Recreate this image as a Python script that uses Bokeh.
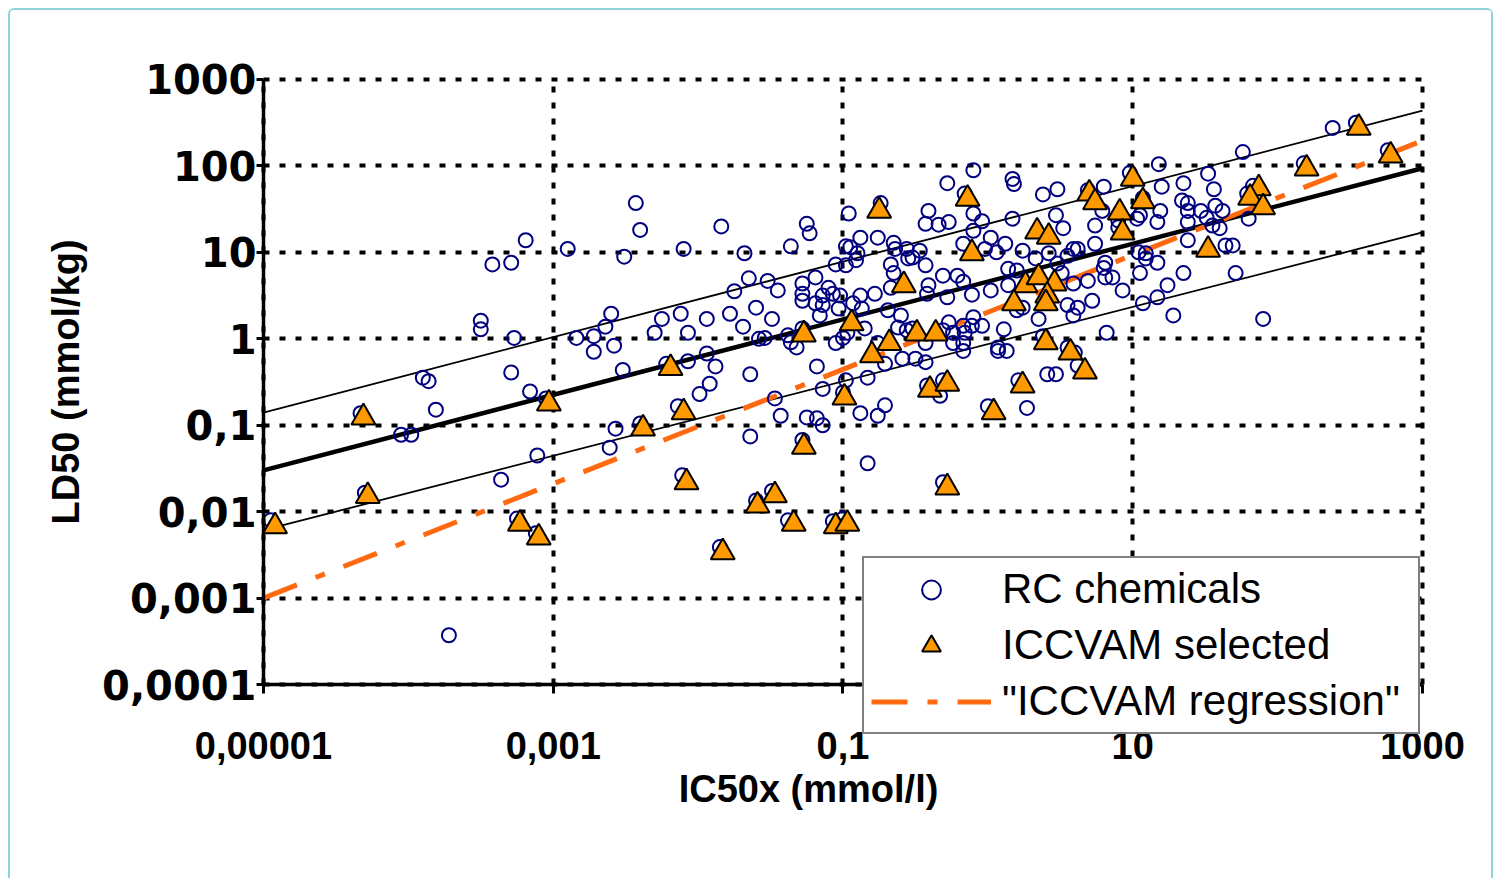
from bokeh.plotting import figure
from bokeh.models import FixedTicker, Legend, LegendItem, Range1d, LogAxis
from bokeh.embed import file_html
from bokeh.resources import INLINE

# ---------------- data (log10 of values) ----------------
rc_log_ic50 = [
    -4.95, -3.19, -3.42, -3.29, -3.50, -3.50, -3.27, -3.90, -3.86, -3.29, -3.16, -3.05, -3.81, -4.33,
    -4.05, -3.98, -3.11, -3.36, -4.30, -3.25, -3.12, -3.72,
    -2.43, -2.40, -1.84, -2.90, -2.51, -2.10, -1.68, -1.65, -1.75, -1.60, -2.60, -2.25, -2.12, -1.94,
    -1.78, -1.69, -2.64, -2.84, -2.72, -2.30, -2.07, -1.58, -2.58, -2.72, -1.94, -2.52, -2.07, -1.88,
    -2.22, -1.64, -1.92, -1.99, -2.14, -2.57, -2.40, -2.61, -1.64, -2.11, -1.60, -1.85,
    -0.74, -0.96, -1.25, -1.23, -1.36, -0.98, -0.95, -0.88, -0.76, -0.65, -0.64, -0.56, -0.55, -0.90,
    -0.91, -1.05, -0.98, -0.67, -0.65, -1.52, -1.45, -1.19, -1.28, -1.28, -1.10, -1.07, -1.02, -1.14,
    -0.88, -0.78, -0.67, -1.49, -1.54, -1.38, -1.36, -1.32, -1.28, -1.28, -1.19, -1.14, -1.16, -1.03,
    -0.93, -0.87, -0.85, -0.97, -1.05, -1.00, -0.69, -0.60, -0.62, -0.56, -0.76, -0.71, -0.59, -1.18,
    -0.98, -0.83, -1.14, -1.47, -1.00, -1.43, -1.25, -1.18, -1.14, -0.88, -0.76, -0.71, -1.28, -0.83,
    -1.49, -1.38, -1.07, -1.00,
    -0.10, 0.17, 0.18, -0.28, 0.38, 0.48, -0.16, -0.41, -0.43, -0.34, -0.27, -0.10, -0.04, -0.10,
    0.17, 0.47, 0.02, -0.17, 0.12, -0.02, 0.06, -0.47, -0.52, -0.43, 0.24, 0.33, 0.42, 0.48, -0.31,
    -0.21, -0.17, 0.14, 0.20, -0.41, -0.42, 0.02, 0.14, -0.11, -0.28, 0.20, 0.24, 0.35, 0.55, 0.62,
    0.59, 0.72, 0.82, 0.11, -0.04, -0.10, -0.11, -0.17, -0.16, -0.24, -0.24, -0.17, -0.17, -0.27,
    -0.31, -0.43, -0.50, -0.43, -0.52, 0.07, 0.13, 0.07, 0.38, 0.55, 0.60, 0.62, 0.41, 0.47, 0.21,
    -0.42, -0.31, -0.33, 0.00, 0.27, -0.31,
    1.76, 1.18, 0.98, 1.52, 1.35, 1.56, 1.20, 0.80, 0.69, 1.07, 1.34, 1.38, 1.38, 1.47, 1.57, 1.62,
    1.51, 1.55, 1.60, 1.38, 1.38, 1.19, 1.17, 1.05, 1.03, 0.90, 0.90, 0.79, 0.74, 0.52, 0.74, 0.59,
    0.62, 0.55, 1.64, 1.69, 1.04, 1.09, 1.09, 1.17, 0.81, 0.80, 0.81, 0.86, 1.05, 1.35, 0.93, 1.24,
    1.17, 1.07, 1.28, 0.59, 0.69, 0.51, 1.71, 2.38, 2.54, 2.76, 2.18, 1.83, 1.79, 1.80, 1.90,
]
rc_log_ld50 = [
    -2.10, 1.14, 0.86, 0.88, 0.21, 0.11, 0.01, -0.45, -0.49, -0.39, -0.61, -0.69, -0.82, -0.86,
    -1.11, -1.11, -1.35, -1.63, -1.78, -2.08, -2.25, -3.43,
    1.57, 1.26, 1.30, 1.04, 0.95, 1.04, 0.99, 0.70, 0.55, 0.36, 0.29, 0.23, 0.29, 0.23,
    0.29, 0.14, 0.14, 0.01, 0.03, 0.07, 0.07, 0.00, -0.08, -0.15, -0.17, -0.36, -0.26, -0.32,
    -0.29, -0.41, -0.52, -0.64, -0.78, -1.04, -0.98, -1.26, -1.13, -1.58, -1.87, -2.41,
    1.57, 1.45, 1.33, 1.22, 1.07, 1.07, 1.06, 1.17, 1.17, 1.11, 1.04, 1.04, 0.93, 0.99,
    0.91, 0.86, 0.85, 0.86, 0.76, 0.67, 0.56, 0.71, 0.64, 0.52, 0.59, 0.52, 0.50, 0.50,
    0.50, 0.52, 0.59, 0.23, 0.01, 0.04, -0.04, -0.10, 0.12, 0.44, 0.41, 0.39, 0.27, 0.35,
    0.41, 0.35, 0.12, 0.07, -0.05, 0.01, 0.33, 0.27, 0.13, 0.10, -0.05, -0.29, -0.23, -0.32,
    -0.48, -0.45, -0.58, -0.69, -0.62, -0.89, -0.91, -0.92, -1.00, -0.86, -0.89, -0.77, -1.17, -1.44,
    -1.76, -2.10, -2.11, -2.08,
    1.95, 1.85, 1.79, 1.80, 1.67, 1.73, 1.68, 1.48, 1.33, 1.32, 1.35, 1.45, 1.36, 1.25,
    1.39, 1.43, 1.17, 1.10, 1.10, 1.04, 1.00, 1.02, 0.94, 0.85, 1.02, 0.93, 0.99, 0.87, 0.73,
    0.73, 0.66, 0.81, 0.79, 0.62, 0.52, 0.56, 0.62, 0.51, 0.48, 0.33, 0.36, 0.23, 0.39, 0.36,
    0.27, 0.44, 0.07, 0.11, 0.15, 0.25, 0.15, 0.15, 0.07, 0.07, -0.05, -0.05, -0.14, 0.19,
    0.10, -0.05, -0.23, -0.27, 0.12, -0.14, -0.14, -0.10, 0.03, -0.10, -0.16, -0.31, -0.41, -0.41, -0.48,
    -0.54, -0.48, -0.66, -0.78, -0.80, -1.66,
    2.16, 2.02, 1.92, 1.91, 1.80, 1.73, 1.76, 1.76, 1.72, 1.63, 1.60, 1.57, 1.48, 1.48, 1.54, 1.48,
    1.40, 1.31, 1.28, 1.35, 1.14, 1.48, 1.35, 1.43, 1.39, 1.37, 1.29, 1.48, 1.31, 1.28, 1.10, 1.04,
    1.04, 0.96, 1.08, 1.08, 1.00, 0.99, 0.93, 0.88, 0.88, 0.82, 0.71, 0.71, 0.76, 0.76, 0.56, 0.62,
    0.48, 0.41, 0.27, 0.64, 0.67, 0.76, 0.76, 2.44, 2.50, 2.18, 2.03, 1.77, 1.68, 1.39, 0.23,
]

iccvam_log_ic50 = [
    -4.92, -4.31, -3.03, -4.28, -3.23, -3.10, -2.19, -2.10, -2.38, -2.08, -1.59, -1.83,
    -0.75, -0.58, -1.27, -0.94, -0.68, -0.80, -0.99, -1.27, -1.47, -1.34, -1.05, -0.97,
    -0.14, -0.11, 0.34, 0.42, 0.26, 0.35, 0.46, 0.41, 0.18, 0.40, -0.49, -0.36, 0.40,
    0.57, 0.67, 0.24, -0.40, -0.28, 0.04, -0.28,
    1.00, 0.70, 0.74, 1.07, 0.91, 0.93, 1.52, 2.56, 2.78, 2.20, 1.87, 1.81, 1.90,
]
iccvam_log_ld50 = [
    -2.17, -0.91, -0.75, -1.82, -2.14, -2.30, -0.34, -0.85, -1.04, -1.66, -1.93, -2.47,
    1.48, 0.62, 0.05, 0.18, -0.05, -0.19, -0.68, -1.25, -1.81, -2.14, -2.17, -2.14,
    1.62, 0.99, 1.24, 1.18, 0.62, 0.71, 0.64, 0.50, 0.41, 0.41, 0.06, 0.06, -0.04,
    -0.16, -0.38, -0.54, -0.59, -0.52, -0.85, -1.72,
    1.85, 1.68, 1.58, 1.59, 1.46, 1.23, 1.03, 2.44, 2.12, 1.97, 1.74, 1.63, 1.52,
]

# regression lines: values at both ends of the x range
line_ic50 = [1e-5, 1000]
fit_ld50 = [0.030, 94]
upper_ld50 = [0.14, 436]
lower_ld50 = [0.0061, 17]
iccvam_reg_ld50 = [0.001, 196]

x_tick_values = [1e-5, 1e-3, 1e-1, 10, 1000]
x_tick_labels = ["0,00001", "0,001", "0,1", "10", "1000"]
y_tick_values = [1e-4, 1e-3, 1e-2, 1e-1, 1, 10, 100, 1000]
y_tick_labels = ["0,0001", "0,001", "0,01", "0,1", "1", "10", "100", "1000"]

rc_x = [10 ** v for v in rc_log_ic50]
rc_y = [10 ** v for v in rc_log_ld50]
ic_x = [10 ** v for v in iccvam_log_ic50]
ic_y = [10 ** v for v in iccvam_log_ld50]

# ---------------- figure ----------------
# Axes are pinned (fixed_location) at the data limits; the visible ranges are padded so
# that tick labels, titles and the legend (which overlaps the x axis) all fit in the frame.
X_MIN, X_MAX = 1e-5, 1000
Y_MIN, Y_MAX = 1e-4, 1000
x_view = (10 ** -6.677, 10 ** 3.4348)
y_view = (10 ** -6.036, 10 ** 3.6826)

p = figure(width=1485, height=870, x_axis_type="log", y_axis_type="log",
           x_range=Range1d(*x_view), y_range=Range1d(*y_view),
           output_backend="svg", toolbar_location=None,
           min_border_left=10, min_border_right=10, min_border_top=10, min_border_bottom=20)
p.margin = (8, 0, 0, 8)
p.styles = {"border-left": "2px solid #8fd5d8", "border-top": "2px solid #8fd5d8",
            "border-right": "2px solid #8fd5d8", "border-radius": "6px 6px 0 0"}
p.outline_line_color = None
p.background_fill_color = "white"
p.border_fill_color = "white"

p.line(line_ic50, upper_ld50, line_color="black", line_width=1.8)
p.line(line_ic50, lower_ld50, line_color="black", line_width=1.8)
p.line(line_ic50, fit_ld50, line_color="black", line_width=4.5)
reg = p.line(line_ic50, iccvam_reg_ld50, line_color="#FF6A10", line_width=5, line_dash="36 20 10 20")

rc = p.scatter(rc_x, rc_y, marker="circle", size=14, fill_color=None,
               line_color="#000080", line_width=2)
ic = p.scatter(ic_x, ic_y, marker="triangle", size=24, fill_color="#FF9900",
               line_color="black", line_width=2)

# axes
for ax in (p.xaxis[0], p.yaxis[0]):
    ax.axis_line_width = 3.5
    ax.axis_line_color = "black"
    ax.major_tick_line_width = 3
    ax.major_tick_line_color = "black"
    ax.major_tick_in = 0
    ax.minor_tick_line_color = None
    ax.major_label_text_color = "black"
    ax.axis_label_text_color = "black"
    ax.axis_label_text_font = "Liberation Sans"
    ax.axis_label_text_font_style = "bold"
    ax.axis_label_text_font_size = "38px"

p.xaxis.fixed_location = Y_MIN
p.yaxis.fixed_location = X_MIN
p.xaxis.bounds = (X_MIN, X_MAX)
p.yaxis.bounds = (Y_MIN, Y_MAX)
p.xaxis.ticker = FixedTicker(ticks=x_tick_values)
p.yaxis.ticker = FixedTicker(ticks=y_tick_values)
p.xaxis.major_label_overrides = dict(zip(x_tick_values, x_tick_labels))
p.yaxis.major_label_overrides = dict(zip(y_tick_values, y_tick_labels))

p.xaxis.major_tick_out = 9
p.xaxis.major_label_text_font = "Liberation Sans"
p.xaxis.major_label_text_font_style = "bold"
p.xaxis.major_label_text_font_size = "38px"
p.xaxis.major_label_standoff = 38

p.yaxis.major_tick_out = 7
p.yaxis.major_label_text_font = "DejaVu Sans"
p.yaxis.major_label_text_font_style = "bold"
p.yaxis.major_label_text_font_size = "40px"
p.yaxis.major_label_standoff = 0
p.yaxis.axis_label = "LD50 (mmol/kg)"
p.yaxis.axis_label_standoff = 12

# x-axis title: its own tickless axis, so that the title sits where the reference puts it
title_axis = LogAxis(fixed_location=Y_MIN, bounds=(X_MIN, 10 ** 2.522),
                     ticker=FixedTicker(ticks=[]), axis_label="IC50x (mmol/l)",
                     axis_line_color=None, major_tick_line_color=None, minor_tick_line_color=None,
                     major_tick_out=0, major_tick_in=0, minor_tick_out=0, minor_tick_in=0,
                     axis_label_standoff=83, axis_label_text_font="Liberation Sans",
                     axis_label_text_font_style="bold", axis_label_text_font_size="38px",
                     axis_label_text_color="black")
p.add_layout(title_axis, "below")

# grid
p.xgrid.ticker = FixedTicker(ticks=x_tick_values)
p.ygrid.ticker = FixedTicker(ticks=y_tick_values)
p.xgrid.cross_bounds = (Y_MIN, Y_MAX)
p.ygrid.cross_bounds = (X_MIN, X_MAX)
for g in (p.xgrid[0], p.ygrid[0]):
    g.grid_line_color = "black"
    g.grid_line_width = 4
    g.grid_line_dash = "6 10"

# legend
legend = Legend(items=[
    LegendItem(label="RC chemicals", renderers=[rc]),
    LegendItem(label="ICCVAM selected", renderers=[ic]),
    LegendItem(label="\"ICCVAM regression\"", renderers=[reg]),
], location=(842, 126))
legend.margin = 0
legend.padding = 7
legend.spacing = 8
legend.glyph_width = 120
legend.glyph_height = 47
legend.label_standoff = 11
legend.label_width = 409
legend.label_text_font = "Liberation Sans"
legend.label_text_font_size = "42px"
legend.label_text_color = "black"
legend.border_line_color = "black"
legend.border_line_width = 2
legend.background_fill_color = "white"
legend.background_fill_alpha = 1.0
p.add_layout(legend, "center")

open("out.html", "w").write(file_html(p, INLINE))
